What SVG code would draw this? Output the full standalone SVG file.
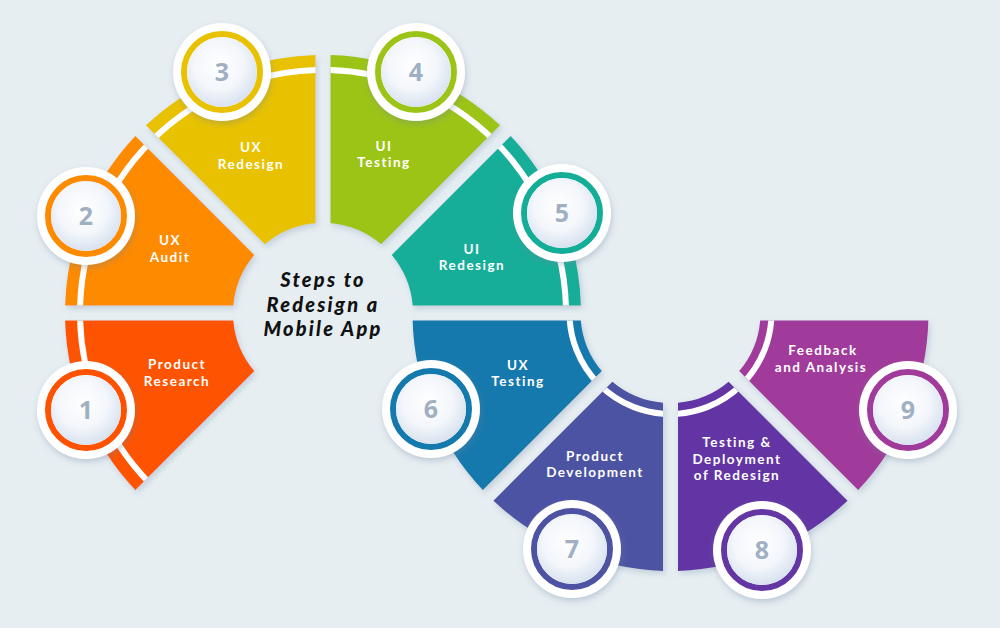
<svg xmlns="http://www.w3.org/2000/svg" xmlns:xlink="http://www.w3.org/1999/xlink" width="1000" height="628" viewBox="0 0 1000 628">
<defs>
<style>
.lbl{font-family:Lato,"Liberation Sans",sans-serif;font-weight:700;font-size:13.5px;fill:#ffffff;text-anchor:middle;letter-spacing:1.5px}
.num{font-family:"Noto Sans","Liberation Sans",sans-serif;font-weight:700;font-size:25px;fill:#9fb0c3;text-anchor:middle}
.title{font-family:Lato,"Liberation Sans",sans-serif;font-weight:900;font-style:italic;font-size:20px;fill:#111111;text-anchor:middle;letter-spacing:2.2px}
.arc{fill:none;stroke:#ffffff;stroke-width:6}
.face{fill:url(#faceGrad)}
.halo{fill:#ffffff;filter:url(#cshadow)}
.seg{filter:url(#sshadow)}
</style>
<radialGradient id="faceGrad" cx="0.45" cy="0.4" r="0.6">
<stop offset="0" stop-color="#ffffff"/>
<stop offset="0.6" stop-color="#f3f6fb"/>
<stop offset="1" stop-color="#d8e2ef"/>
</radialGradient>
<filter id="sshadow" x="-20%" y="-20%" width="140%" height="140%">
<feDropShadow dx="2" dy="3" stdDeviation="3" flood-color="#7f93ad" flood-opacity="0.35"/>
</filter>
<filter id="cshadow" x="-30%" y="-30%" width="160%" height="160%">
<feDropShadow dx="1" dy="3" stdDeviation="3" flood-color="#6d819c" flood-opacity="0.35"/>
</filter>
<path id="p1" d="M135.34,490.06 A258,258 0 0 1 65.11,320.5 L233.31,320.5 A90,90 0 0 0 254.28,371.12 Z"/>
<path id="p2" d="M65.11,305.5 A258,258 0 0 1 135.34,135.94 L254.28,254.88 A90,90 0 0 0 233.31,305.5 Z"/>
<path id="p3" d="M145.94,125.34 A258,258 0 0 1 315.5,55.11 L315.5,223.31 A90,90 0 0 0 264.88,244.28 Z"/>
<path id="p4" d="M330.5,55.11 A258,258 0 0 1 500.06,125.34 L381.12,244.28 A90,90 0 0 0 330.5,223.31 Z"/>
<path id="p5" d="M510.66,135.94 A258,258 0 0 1 580.89,305.5 L412.69,305.5 A90,90 0 0 0 391.72,254.88 Z"/>
<path id="p6" d="M482.84,490.06 A258,258 0 0 1 412.61,320.5 L580.81,320.5 A90,90 0 0 0 601.78,371.12 Z"/>
<path id="p7" d="M663,570.89 A258,258 0 0 1 493.44,500.66 L612.38,381.72 A90,90 0 0 0 663,402.69 Z"/>
<path id="p8" d="M847.56,500.66 A258,258 0 0 1 678,570.89 L678,402.69 A90,90 0 0 0 728.62,381.72 Z"/>
<path id="p9" d="M928.39,320.5 A258,258 0 0 1 858.16,490.06 L739.22,371.12 A90,90 0 0 0 760.19,320.5 Z"/>
<clipPath id="k1"><use xlink:href="#p1"/></clipPath>
<clipPath id="k2"><use xlink:href="#p2"/></clipPath>
<clipPath id="k3"><use xlink:href="#p3"/></clipPath>
<clipPath id="k4"><use xlink:href="#p4"/></clipPath>
<clipPath id="k5"><use xlink:href="#p5"/></clipPath>
<clipPath id="k6"><use xlink:href="#p6"/></clipPath>
<clipPath id="k7"><use xlink:href="#p7"/></clipPath>
<clipPath id="k8"><use xlink:href="#p8"/></clipPath>
<clipPath id="k9"><use xlink:href="#p9"/></clipPath>
</defs>
<rect width="1000" height="628" fill="#e6eef2"/>
<g id="connectors"/>
<g id="node1">
<use xlink:href="#p1" class="seg" fill="#fe5200"/>
<circle cx="323" cy="313" r="243" class="arc" clip-path="url(#k1)"/>
<text class="lbl" x="177" y="369">Product</text>
<text class="lbl" x="177" y="385.5">Research</text>
<circle cx="86" cy="410" r="49" class="halo"/>
<circle cx="86" cy="410" r="38" fill="none" stroke="#fe5200" stroke-width="6"/>
<circle cx="86" cy="410" r="35" class="face"/>
<text class="num" x="86" y="419">1</text>
</g>
<g id="node2">
<use xlink:href="#p2" class="seg" fill="#fe8a00"/>
<circle cx="323" cy="313" r="243" class="arc" clip-path="url(#k2)"/>
<text class="lbl" x="170" y="245">UX</text>
<text class="lbl" x="170" y="262">Audit</text>
<circle cx="86" cy="216" r="49" class="halo"/>
<circle cx="86" cy="216" r="38" fill="none" stroke="#fe8a00" stroke-width="6"/>
<circle cx="86" cy="216" r="35" class="face"/>
<text class="num" x="86" y="225">2</text>
</g>
<g id="node3">
<use xlink:href="#p3" class="seg" fill="#e8c200"/>
<circle cx="323" cy="313" r="243" class="arc" clip-path="url(#k3)"/>
<text class="lbl" x="251" y="152">UX</text>
<text class="lbl" x="251" y="168.5">Redesign</text>
<circle cx="222" cy="72" r="49" class="halo"/>
<circle cx="222" cy="72" r="38" fill="none" stroke="#e8c200" stroke-width="6"/>
<circle cx="222" cy="72" r="35" class="face"/>
<text class="num" x="222" y="81">3</text>
</g>
<g id="node4">
<use xlink:href="#p4" class="seg" fill="#9cc417"/>
<circle cx="323" cy="313" r="243" class="arc" clip-path="url(#k4)"/>
<text class="lbl" x="384" y="150.5">UI</text>
<text class="lbl" x="384" y="167">Testing</text>
<circle cx="416" cy="72" r="49" class="halo"/>
<circle cx="416" cy="72" r="38" fill="none" stroke="#9cc417" stroke-width="6"/>
<circle cx="416" cy="72" r="35" class="face"/>
<text class="num" x="416" y="81">4</text>
</g>
<g id="node5">
<use xlink:href="#p5" class="seg" fill="#14ae98"/>
<circle cx="323" cy="313" r="243" class="arc" clip-path="url(#k5)"/>
<text class="lbl" x="472" y="253.5">UI</text>
<text class="lbl" x="472" y="270">Redesign</text>
<circle cx="562" cy="213" r="49" class="halo"/>
<circle cx="562" cy="213" r="38" fill="none" stroke="#14ae98" stroke-width="6"/>
<circle cx="562" cy="213" r="35" class="face"/>
<text class="num" x="562" y="222">5</text>
</g>
<g id="node6">
<use xlink:href="#p6" class="seg" fill="#1479ad"/>
<circle cx="670.5" cy="313" r="101" class="arc" clip-path="url(#k6)"/>
<text class="lbl" x="518" y="369.5">UX</text>
<text class="lbl" x="518" y="386">Testing</text>
<circle cx="431" cy="409" r="49" class="halo"/>
<circle cx="431" cy="409" r="38" fill="none" stroke="#1479ad" stroke-width="6"/>
<circle cx="431" cy="409" r="35" class="face"/>
<text class="num" x="431" y="418">6</text>
</g>
<g id="node7">
<use xlink:href="#p7" class="seg" fill="#4d52a3"/>
<circle cx="670.5" cy="313" r="101" class="arc" clip-path="url(#k7)"/>
<text class="lbl" x="595" y="460.5">Product</text>
<text class="lbl" x="595" y="477">Development</text>
<circle cx="572" cy="549" r="49" class="halo"/>
<circle cx="572" cy="549" r="38" fill="none" stroke="#4d52a3" stroke-width="6"/>
<circle cx="572" cy="549" r="35" class="face"/>
<text class="num" x="572" y="558">7</text>
</g>
<g id="node8">
<use xlink:href="#p8" class="seg" fill="#6336a4"/>
<circle cx="670.5" cy="313" r="101" class="arc" clip-path="url(#k8)"/>
<text class="lbl" x="737" y="447">Testing &amp;</text>
<text class="lbl" x="737" y="463.5">Deployment</text>
<text class="lbl" x="737" y="480">of Redesign</text>
<circle cx="762" cy="550" r="49" class="halo"/>
<circle cx="762" cy="550" r="38" fill="none" stroke="#6336a4" stroke-width="6"/>
<circle cx="762" cy="550" r="35" class="face"/>
<text class="num" x="762" y="559">8</text>
</g>
<g id="node9">
<use xlink:href="#p9" class="seg" fill="#a13b9b"/>
<circle cx="670.5" cy="313" r="101" class="arc" clip-path="url(#k9)"/>
<text class="lbl" x="823" y="355">Feedback</text>
<text class="lbl" x="821" y="371.5">and Analysis</text>
<circle cx="908" cy="410" r="49" class="halo"/>
<circle cx="908" cy="410" r="38" fill="none" stroke="#a13b9b" stroke-width="6"/>
<circle cx="908" cy="410" r="35" class="face"/>
<text class="num" x="908" y="419">9</text>
</g>
<g id="title">
<text class="title" x="323" y="287">Steps to</text>
<text class="title" x="323" y="311.5">Redesign a</text>
<text class="title" x="323" y="336">Mobile App</text>
</g>
</svg>
